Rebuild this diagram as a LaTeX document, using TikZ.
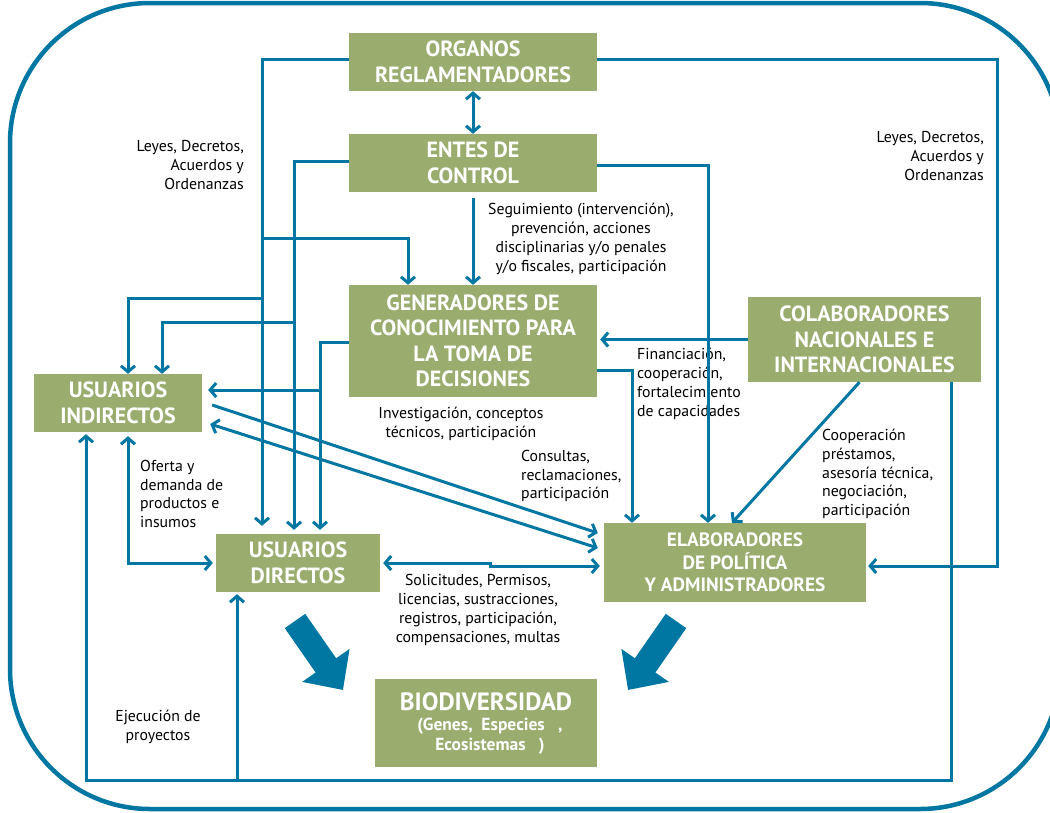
\documentclass[tikz,border=0pt]{standalone}
\usepackage{fontspec}
\setmainfont{PT Sans}
\usepackage{tikz}
\usetikzlibrary{arrows.meta,calc,positioning}
\definecolor{azul}{RGB}{0,119,163}
\definecolor{verde}{RGB}{155,172,111}

\begin{document}
\begin{tikzpicture}[x=1pt,y=-1pt,>={Straight Barb[length=6pt,width=14pt]}]
	\tikzstyle{every node} = [inner sep=0pt]
	\tikzstyle{caja} = [fill=verde, text=white, align=center, font=\bfseries\fontsize{22}{25.5}\selectfont]
	\tikzstyle{etiq} = [align=center, font=\fontsize{15.8}{18.8}\selectfont]
	\tikzstyle{flecha} = [draw=azul, line width=3pt, ->]
\useasboundingbox (0,0) rectangle (1050,812);
\draw[azul, line width=4.5pt, rounded corners=140pt] (10,3) rectangle (1060,809);
\node[caja, minimum width=248pt, minimum height=58pt] (org) at (473,62) {ORGANOS\\REGLAMENTADORES};
\node[caja, minimum width=248pt, minimum height=58pt] (ent) at (473,163) {ENTES DE\\CONTROL};
\node[caja, minimum width=248pt, minimum height=112pt] (gen) at (473,341) {GENERADORES DE\\CONOCIMIENTO PARA\\LA TOMA DE\\DECISIONES};
\node[caja, minimum width=233pt, minimum height=85pt] (col) at (864.5,339.5) {COLABORADORES\\NACIONALES E\\INTERNACIONALES};
\node[caja, minimum width=168pt, minimum height=58pt] (ind) at (118,403) {USUARIOS\\INDIRECTOS};
\node[caja, minimum width=164pt, minimum height=58pt] (dir) at (298,563) {USUARIOS\\DIRECTOS};
\node[caja, minimum width=262pt, minimum height=79pt, font=\bfseries\fontsize{19.3}{22.5}\selectfont] (ela) at (735,562.5) {ELABORADORES\\DE POLÍTICA\\Y ADMINISTRADORES};
\node[caja, minimum width=222pt, minimum height=88pt, font=\bfseries\fontsize{17.5}{20}\selectfont] (bio) at (486,723) {{\fontsize{25}{28}\selectfont BIODIVERSIDAD}\\\hspace*{8pt}(Genes,\ \ Especies\ \ \ ,\\\hspace*{8pt}Ecosistemas\ \ \ )};
 \node[etiq, align=right, anchor=east] (leyesI) at (244,165) {Leyes, Decretos,\\Acuerdos y\\Ordenanzas};
 \node[etiq, align=right, anchor=east] (leyesD) at (984,156) {Leyes, Decretos,\\Acuerdos y\\Ordenanzas};
 \node[etiq] (seg) at (581,239) {Seguimiento (intervención),\\prevención, acciones\\disciplinarias y/o penales\\y/o fiscales, participación};
 \node[etiq] (inv) at (461,424) {Investigación, conceptos\\técnicos, participación};
 \node[etiq, align=left, anchor=west] (cons) at (521,476) {Consultas,\\reclamaciones,\\participación};
 \node[etiq, align=left, anchor=west] (fin) at (637,384) {Financiación,\\cooperación,\\fortalecimiento\\de capacidades};
 \node[etiq, align=left, anchor=west] (coop) at (822,474) {Cooperación\\préstamos,\\asesoría técnica,\\negociación,\\participación};
 \node[etiq, align=left, anchor=west] (ofer) at (140,494) {Oferta y\\demanda de\\productos e\\insumos};
 \node[etiq] (soli) at (478,610) {Solicitudes, Permisos,\\licencias, sustracciones,\\registros, participación,\\compensaciones, multas};
 \node[etiq] (ejec) at (158,727) {Ejecución de\\proyectos};
\coordinate (bo1) at (262,238);
\coordinate (bo2) at (262,298);
\coordinate (be1) at (294,322);
\coordinate (bg1) at (320,390);
\coordinate (baja) at (0,780);
	\path[flecha, <->] (org) -- (ent);
	\path[flecha] ([yshift=3pt]org.west) -| ([xshift=-36pt,yshift=8pt]dir.north);
	\path[flecha] (bo1) -| ([xshift=-65pt]gen.north);
	\path[flecha] (bo2) -| ([xshift=10pt]ind.north);
	\path[flecha] ([yshift=2pt]ent.west) -| ([xshift=-4pt,yshift=4pt]dir.north);
	\path[flecha] (be1) -| ([xshift=44pt]ind.north);
	\path[flecha] ([yshift=-2pt]ent.east) -| ([xshift=-27pt]ela.north);
	\path[flecha] ([yshift=-6pt]ent.south) -- (gen.north);
	\path[flecha] ([yshift=-1pt]gen.west) -| ([xshift=22pt,yshift=4pt]dir.north);
	\path[flecha] (bg1) -- ([xshift=6pt,yshift=13pt]ind.east);
	\path[flecha] ([yshift=-29pt]gen.east) -| ([xshift=-103pt]ela.north);
	\path[flecha] (col.west) -- ([xshift=3pt]col.west -| gen.east);
	\path[flecha] ([xshift=-5pt]col.south) -- ([xshift=-3pt]ela.north);
	\path[flecha] ([xshift=87pt]col.south) -- ([xshift=87pt]col.south |- baja) -| ([xshift=-32pt,yshift=-2pt]ind.south);
	\path[flecha] ([xshift=-61pt]dir.south |- baja) -- ([xshift=-61pt,yshift=-2pt]dir.south);
	\path[flecha] ([yshift=3pt]org.east) -| ([xshift=131pt,yshift=-3.5pt]ela.east) -- ([xshift=2pt,yshift=-3.5pt]ela.east);
	\path[flecha] ([xshift=10pt,yshift=-2pt]ind.east) -- ([xshift=-6pt,yshift=29.5pt]ela.west);
	\path[flecha, <->] ([xshift=8pt,yshift=-21pt]ind.east) -- ([xshift=-6pt,yshift=14.5pt]ela.west);
	\path[flecha, <->] ([xshift=3pt]dir.east) -- ++(107pt,0pt) |- ([xshift=-4pt,yshift=-3.5pt]ela.west);
	\path[flecha, <->] ([xshift=10pt,yshift=-4pt]ind.south) |- ([xshift=-3pt]dir.west);
\coordinate (g1) at (295,621);
\coordinate (g2) at (343,690);
\coordinate (g3) at (676,621);
\coordinate (g4) at (628,690);
	\draw[azul, line width=25pt, -{Triangle[length=30pt,width=56pt]}] (g1) -- (g2);
	\draw[azul, line width=25pt, -{Triangle[length=30pt,width=56pt]}] (g3) -- (g4);
\end{tikzpicture}
\end{document}
